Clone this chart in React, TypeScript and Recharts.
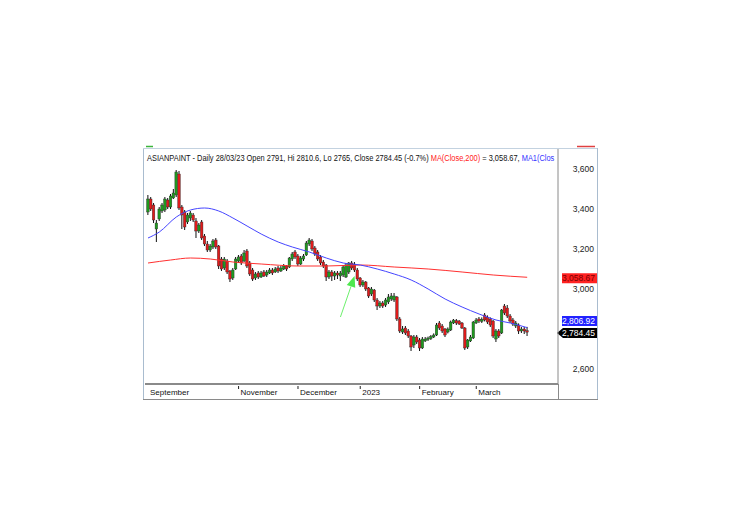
import React from 'react';
import { ComposedChart, Bar, Line, XAxis, YAxis, ReferenceLine } from 'recharts';

// ---- Daily OHLC ----
const openP = [
  3385, 3450, 3420, 3300, 3350, 3390, 3395, 3445, 3410, 3455,
  3470, 3575, 3410, 3385, 3335, 3355, 3370, 3340, 3290, 3335,
  3265, 3225, 3195, 3210, 3245, 3215, 3150, 3105, 3140, 3090,
  3055, 3100, 3140, 3165, 3140, 3190, 3130, 3095, 3055, 3080,
  3060, 3085, 3070, 3080, 3095, 3085, 3105, 3090, 3100, 3115,
  3110, 3150, 3185, 3165, 3125, 3150, 3170, 3225, 3240, 3205,
  3185, 3160, 3135, 3120, 3060, 3085, 3065, 3080, 3065, 3070,
  3060, 3085, 3130, 3125, 3095, 3055, 3020, 3035, 3005, 2975,
  2995, 2945, 2915, 2930, 2920, 2935, 2950, 2945, 2960, 2850,
  2785, 2805, 2790, 2765, 2720, 2760, 2745, 2705, 2740, 2748,
  2752, 2760, 2770, 2830, 2815, 2800, 2785, 2795, 2830, 2842,
  2840, 2830, 2805, 2710, 2740, 2755, 2830, 2850, 2838, 2870,
  2860, 2850, 2840, 2750, 2790, 2780, 2915, 2905, 2865, 2845,
  2815, 2820, 2790, 2800, 2791,
];
const highP = [
  3470, 3460, 3430, 3345, 3410, 3430, 3460, 3455, 3475, 3500,
  3595, 3590, 3420, 3395, 3380, 3390, 3380, 3355, 3330, 3345,
  3275, 3240, 3225, 3250, 3255, 3220, 3160, 3160, 3150, 3095,
  3105, 3160, 3170, 3175, 3195, 3200, 3140, 3105, 3085, 3090,
  3090, 3095, 3095, 3105, 3105, 3110, 3115, 3115, 3125, 3120,
  3160, 3185, 3195, 3175, 3165, 3175, 3240, 3255, 3250, 3215,
  3195, 3170, 3145, 3125, 3095, 3095, 3090, 3090, 3090, 3120,
  3130, 3135, 3140, 3135, 3105, 3060, 3045, 3040, 3010, 3010,
  3000, 2955, 2940, 2940, 2955, 2975, 2980, 2980, 2965, 2860,
  2815, 2815, 2800, 2770, 2770, 2770, 2755, 2760, 2760, 2762,
  2770, 2778, 2830, 2840, 2825, 2805, 2808, 2842, 2850, 2850,
  2845, 2835, 2810, 2750, 2770, 2840, 2855, 2860, 2858, 2880,
  2868, 2858, 2845, 2800, 2800, 2900, 2925, 2920, 2875, 2855,
  2840, 2828, 2810, 2810, 2810.6,
];
const lowP = [
  3370, 3390, 3330, 3235, 3340, 3380, 3385, 3400, 3400, 3450,
  3460, 3395, 3300, 3295, 3325, 3340, 3335, 3255, 3280, 3245,
  3215, 3185, 3185, 3200, 3200, 3100, 3090, 3095, 3075, 3035,
  3045, 3095, 3130, 3120, 3135, 3105, 3065, 3040, 3045, 3050,
  3055, 3060, 3060, 3075, 3070, 3080, 3080, 3085, 3095, 3090,
  3105, 3140, 3150, 3115, 3120, 3140, 3165, 3215, 3190, 3165,
  3140, 3120, 3105, 3040, 3050, 3040, 3045, 3050, 3040, 3060,
  3055, 3075, 3095, 3085, 3040, 3010, 3010, 2990, 2955, 2965,
  2935, 2895, 2905, 2905, 2910, 2925, 2940, 2935, 2840, 2780,
  2775, 2770, 2755, 2690, 2705, 2725, 2690, 2700, 2735, 2740,
  2745, 2755, 2765, 2795, 2780, 2760, 2778, 2790, 2825, 2820,
  2820, 2800, 2695, 2700, 2735, 2750, 2825, 2830, 2830, 2838,
  2825, 2810, 2755, 2735, 2755, 2775, 2870, 2855, 2830, 2815,
  2805, 2775, 2780, 2775, 2765,
];
const closeP = [
  3450, 3400, 3345, 3330, 3400, 3420, 3450, 3410, 3465, 3480,
  3585, 3405, 3370, 3310, 3370, 3380, 3345, 3290, 3320, 3255,
  3225, 3195, 3215, 3240, 3210, 3115, 3100, 3150, 3085, 3050,
  3095, 3150, 3160, 3130, 3180, 3115, 3075, 3050, 3075, 3060,
  3080, 3065, 3085, 3095, 3080, 3100, 3090, 3105, 3115, 3100,
  3155, 3175, 3160, 3125, 3155, 3165, 3230, 3245, 3200, 3175,
  3150, 3130, 3115, 3060, 3085, 3065, 3080, 3070, 3080, 3110,
  3120, 3130, 3105, 3095, 3050, 3020, 3035, 3000, 2965, 3000,
  2945, 2915, 2930, 2915, 2945, 2960, 2965, 2965, 2850, 2790,
  2800, 2780, 2765, 2710, 2760, 2735, 2705, 2750, 2750, 2755,
  2762, 2770, 2820, 2805, 2790, 2770, 2800, 2835, 2845, 2830,
  2825, 2805, 2705, 2745, 2760, 2835, 2845, 2840, 2848, 2845,
  2835, 2820, 2765, 2790, 2765, 2895, 2880, 2865, 2840, 2825,
  2830, 2790, 2800, 2790, 2784.45,
];

// ---- Moving averages (read at sample candles) ----
const ma50Idx = [0, 4, 10, 15, 20, 25, 30, 35, 40, 46, 51, 57, 63, 69, 75, 81, 87, 93, 99, 105, 111, 117, 123, 128, 134];
const ma50Val = [3255, 3285, 3360, 3395, 3405, 3390, 3355, 3315, 3275, 3235, 3210, 3185, 3155, 3130, 3120, 3100, 3075, 3045, 3000, 2950, 2910, 2875, 2845, 2830, 2806.92];
const ma200Idx = [0, 8, 15, 22, 30, 40, 53, 63, 75, 87, 99, 111, 122, 134];
const ma200Val = [3130, 3145, 3155, 3150, 3135, 3125, 3115, 3115, 3120, 3110, 3100, 3085, 3070, 3058.67];

// ---- Axis labels ----
const monthTickIdx = [0, 32, 53, 75, 96, 116];
const monthLabels = ['September', 'November', 'December', '2023', 'February', 'March'];
const priceTicks = [2600, 3000, 3200, 3400, 3600];

const lastClose = 2784.45;
const lastMa50 = 2806.92;
const lastMa200 = 3058.67;

const GREEN = '#1f9a1f';
const RED = '#e01b1b';
const FONT = "'Liberation Sans', Arial, sans-serif";

const data = openP.map((o, i) => {
  const a = ma50Idx.indexOf(i);
  const b = ma200Idx.indexOf(i);
  return {
    i,
    open: o,
    high: highP[i],
    low: lowP[i],
    close: closeP[i],
    range: [lowP[i], highP[i]],
    ma50: a >= 0 ? ma50Val[a] : null,
    ma200: b >= 0 ? ma200Val[b] : null,
  };
});

const Candle = (props: any) => {
  const { x, y, width, height, payload } = props;
  if (!payload || x == null) return null;
  const { open, close, high, low } = payload;
  const top = Math.min(y, y + height);
  const h = Math.abs(height);
  const cx = x + width / 2;
  const k = high === low ? 0 : h / (high - low);
  const yo = top + (high - open) * k;
  const yc = top + (high - close) * k;
  const up = close >= open;
  const bt = Math.min(yo, yc);
  const bh = Math.max(1, Math.abs(yc - yo));
  return (
    <g>
      <line x1={cx} x2={cx} y1={top} y2={top + h} stroke="#111" strokeWidth={1} />
      <rect x={cx - 1.3} y={bt} width={2.6} height={bh} fill={up ? GREEN : RED} stroke="#2a2a2a" strokeWidth={0.4} />
    </g>
  );
};

const XTick = (props: any) => {
  const { x, y, payload } = props;
  const idx = monthTickIdx.indexOf(payload.value);
  if (idx < 0) return null;
  const first = idx === 0;
  return (
    <g>
      {!first && <line x1={x} x2={x} y1={y + 2} y2={y + 5} stroke="#222" strokeWidth={1} />}
      <text x={x + 2} y={y + 11} fontSize={8} fontFamily={FONT} fill="#111" textAnchor="start">
        {monthLabels[idx]}
      </text>
    </g>
  );
};

const YTick = (props: any) => {
  const { x, y, payload } = props;
  return (
    <text x={x + 36} y={y + 3} fontSize={8.5} fontFamily={FONT} fill="#222" textAnchor="end">
      {payload.value.toLocaleString('en-US')}
    </text>
  );
};

const makeTag = (text: string, bg: string, fg: string, dy: number, arrow: boolean) => (props: any) => {
  const vb = props.viewBox || {};
  const x0 = (vb.x ?? 0) + (vb.width ?? 0);
  const cy = (vb.y ?? 0) + dy;
  const h = 10;
  const left = arrow ? x0 + 5 : x0 + 4;
  const right = x0 + 39;
  const pts = arrow
    ? `${x0 - 1},${cy} ${left},${cy - h / 2} ${right},${cy - h / 2} ${right},${cy + h / 2} ${left},${cy + h / 2}`
    : `${left},${cy - h / 2} ${right},${cy - h / 2} ${right},${cy + h / 2} ${left},${cy + h / 2}`;
  return (
    <g>
      <polygon points={pts} fill={bg} />
      <text x={right - 2} y={cy + 3.2} fontSize={8.5} fontFamily={FONT} fill={fg} textAnchor="end">
        {text}
      </text>
    </g>
  );
};

const ArrowShape = (props: any) => {
  const { x1, y1, x2, y2 } = props;
  if ([x1, y1, x2, y2].some((v) => v == null || isNaN(v))) return null;
  const dx = x2 - x1;
  const dy = y2 - y1;
  const len = Math.sqrt(dx * dx + dy * dy) || 1;
  const ux = dx / len;
  const uy = dy / len;
  const hl = 11;
  const hw = 4.5;
  const bx = x2 - ux * hl;
  const by = y2 - uy * hl;
  const pts = `${x2},${y2} ${bx - uy * hw},${by + ux * hw} ${bx + uy * hw},${by - ux * hw}`;
  return (
    <g>
      <line x1={x1} y1={y1} x2={bx} y2={by} stroke="#6cf06c" strokeWidth={1} />
      <polygon points={pts} fill="#4ee84e" />
    </g>
  );
};

export default function App() {
  return (
    <div style={{ position: 'absolute', left: 0, top: 0, width: 736, height: 524, background: '#fff' }}>
      <ComposedChart
        width={736}
        height={524}
        data={data}
        margin={{ top: 148, right: 138, bottom: 124, left: 145 }}
      >
        <XAxis
          dataKey="i"
          type="category"
          ticks={monthTickIdx}
          interval={0}
          tick={<XTick />}
          tickLine={false}
          tickSize={0}
          tickMargin={0}
          height={16}
          padding={{ left: 1.6, right: 29.4 }}
          axisLine={{ stroke: '#8a8a8a', strokeWidth: 2 }}
        />
        <YAxis
          orientation="right"
          domain={[2525, 3705]}
          allowDataOverflow
          ticks={priceTicks}
          tick={<YTick />}
          tickLine={false}
          tickSize={0}
          tickMargin={0}
          width={40}
          axisLine={{ stroke: '#8a8a8a', strokeWidth: 1 }}
        />
        <Line dataKey="ma200" type="monotone" stroke="#ff3030" strokeWidth={1} dot={false} connectNulls isAnimationActive={false} />
        <Line dataKey="ma50" type="monotone" stroke="#4545ff" strokeWidth={1} dot={false} connectNulls isAnimationActive={false} />
        <Bar dataKey="range" shape={<Candle />} isAnimationActive={false} />
        <ReferenceLine
          segment={[{ x: 68, y: 2860 }, { x: 73, y: 3065 }]}
          shape={<ArrowShape />}
          ifOverflow="visible"
        />
        <ReferenceLine y={lastMa200} stroke="none" ifOverflow="visible" label={makeTag('3,058.67', '#ff2222', '#7a0000', 1, false)} />
        <ReferenceLine y={lastMa50} stroke="none" ifOverflow="visible" label={makeTag('2,806.92', '#2222ff', '#ffffff', -6.6, false)} />
        <ReferenceLine y={lastClose} stroke="none" ifOverflow="visible" label={makeTag('2,784.45', '#000000', '#ffffff', 1, true)} />
      </ComposedChart>
      <svg width={736} height={524} style={{ position: 'absolute', left: 0, top: 0, pointerEvents: 'none' }}>
        <line x1={143.5} y1={148} x2={143.5} y2={400} stroke="#a9bccf" strokeWidth={1} />
        <line x1={143} y1={148.5} x2={597} y2={148.5} stroke="#c3d2e0" strokeWidth={1} />
        <line x1={597.5} y1={148} x2={597.5} y2={400} stroke="#a9bccf" strokeWidth={1} />
        <line x1={143} y1={399.5} x2={598} y2={399.5} stroke="#8a8a8a" strokeWidth={1} />
        <line x1={558.5} y1={384} x2={558.5} y2={400} stroke="#8a8a8a" strokeWidth={1} />
        <line x1={146} y1={146.5} x2={153} y2={146.5} stroke="#3cb43c" strokeWidth={1.5} />
        <line x1={577} y1={146.5} x2={595} y2={146.5} stroke="#e04040" strokeWidth={1.5} />
        <g transform="translate(147,161) scale(0.825,1)">
          <text x={0} y={0} fontSize={9} fontFamily={FONT} fill="#111">
            <tspan>ASIANPAINT - Daily 28/03/23 Open 2791, Hi 2810.6, Lo 2765, Close 2784.45 (-0.7%) </tspan>
            <tspan fill="#ff1a1a">MA(Close,200)</tspan>
            <tspan> = 3,058.67, </tspan>
            <tspan fill="#3535ff">MA1(Clos</tspan>
          </text>
        </g>
      </svg>
    </div>
  );
}
